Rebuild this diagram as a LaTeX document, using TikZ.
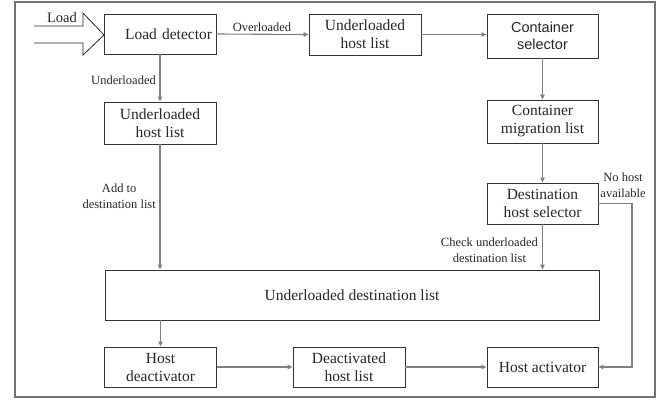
\documentclass[tikz,border=0pt]{standalone}
\usepackage{fontspec}
\setmainfont{Liberation Serif}
\newfontfamily\arialf{Liberation Sans}
\usetikzlibrary{arrows.meta}
\begin{document}
\begin{tikzpicture}[x=1pt,y=-1pt,
 box/.style={draw=black!80, line width=0.9pt, fill=white, inner sep=0pt, align=center,
   font=\fontsize{15.5}{18}\selectfont, text=black!85},
 conn/.style={draw=black!50, line width=1.1pt, -{Triangle[length=5pt,width=4.5pt]}},
 lbl/.style={font=\fontsize{12.5}{16}\selectfont, text=black!85, inner sep=0pt, align=center}]

\useasboundingbox (0,0) rectangle (669,400);
\draw[black!55, line width=2pt] (15,1.5) rectangle (655,396.5);

% Input block arrow
\draw[black!85, line width=0.8pt] (34,26) -- (83,26) -- (83,13) -- (104,35) -- (83,55) -- (83,43) -- (34,43);
\node[lbl, font=\fontsize{14.5}{16}\selectfont, anchor=base] (loadlbl) at (62,22) {Load};

% Boxes
\node[box, minimum width=112pt, minimum height=40pt, text width=104pt, align=right] (ld) at (160,34) {Load detector};
\node[box, minimum width=112pt, minimum height=41pt] (ul1) at (365,34.5) {Underloaded\\host list};
\node[box, minimum width=111pt, minimum height=44pt, font=\arialf\fontsize{14.5}{17}\selectfont] (cs) at (542.5,36) {Container\\selector};
\node[box, minimum width=111pt, minimum height=43pt] (cm) at (542.5,121.5) {Container\\migration list};
\node[box, minimum width=111pt, minimum height=41pt] (ds) at (542.5,203.5) {Destination\\host selector};
\node[box, minimum width=112pt, minimum height=42pt] (ul2) at (160,123) {Underloaded\\host list};
\node[box, minimum width=494pt, minimum height=50pt] (ud) at (352,295) {Underloaded destination list};
\node[box, minimum width=112pt, minimum height=40pt] (hd) at (160.5,367) {Host\\deactivator};
\node[box, minimum width=112pt, minimum height=40pt] (dl) at (349,367) {Deactivated\\host list};
\node[box, minimum width=111pt, minimum height=40pt] (ha) at (542.5,367) {Host activator};

\coordinate (bend) at (632,0);

% Connectors
\draw[conn] (ld.east) -- (ul1.west);
\draw[conn] (ul1.east) -- (cs.west |- ul1.east);
\draw[conn] (ld.south) -- (ld.south |- ul2.north);
\draw[conn] (ul2.south) -- (ul2.south |- ud.north);
\draw[conn] (cs.south) -- (cm.north);
\draw[conn] (cm.south) -- (ds.north);
\draw[conn] (ds.south) -- (ds.south |- ud.north);
\draw[conn] (ds.east) -- (ds.east -| bend) -- (bend |- ha.east) -- (ha.east);
\draw[conn] (hd.north |- ud.south) -- (hd.north);
\draw[conn] (hd.east) -- (dl.west);
\draw[conn] (dl.east) -- (ha.west);

% Labels
\node[lbl] (lover) at (262,27) {Overloaded};
\node[lbl, anchor=east] (lunder) at (156,80) {Underloaded};
\node[lbl, anchor=east] (ladd) at (156,196) {Add to\\destination list};
\node[lbl, anchor=east] (lcheck) at (538,250.5) {Check underloaded\\destination list};
\node[lbl] (lnohost) at (623,185.5) {No host\\available};
\end{tikzpicture}
\end{document}
